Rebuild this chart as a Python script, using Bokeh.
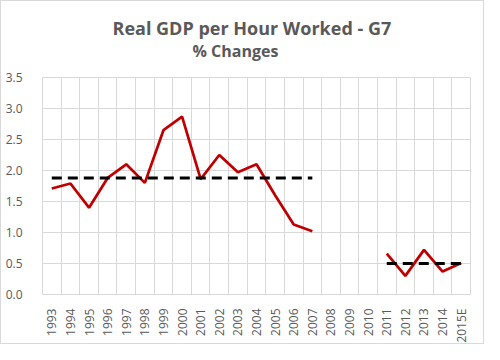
import math
from bokeh.plotting import figure
from bokeh.models import FixedTicker, Title, ColumnDataSource
from bokeh.embed import file_html
from bokeh.resources import INLINE

years = ["1993", "1994", "1995", "1996", "1997", "1998", "1999", "2000", "2001",
         "2002", "2003", "2004", "2005", "2006", "2007", "2008", "2009", "2010",
         "2011", "2012", "2013", "2014", "2015E"]
nan = float("nan")
growth = [1.71, 1.79, 1.40, 1.88, 2.10, 1.80, 2.65, 2.87, 1.86, 2.25, 1.97, 2.10,
          1.60, 1.13, 1.02, nan, nan, nan, 0.66, 0.30, 0.72, 0.37, 0.51]
avg_early_years = ["1993", "2007"]
avg_early = [1.88, 1.88]
avg_late_years = ["2011", "2015E"]
avg_late = [0.50, 0.50]
y_ticks = [0.0, 0.5, 1.0, 1.5, 2.0, 2.5, 3.0, 3.5]

pos = {y: i + 0.5 for i, y in enumerate(years)}

W, H = 484, 344
LEFT, RIGHT, TOP, BOTTOM = 41, 15, 76, 50
p = figure(width=W, height=H, output_backend="svg", toolbar_location=None,
           x_range=(0, len(years)), y_range=(0, 3.5),
           min_border_left=LEFT, min_border_right=RIGHT, min_border_top=TOP,
           min_border_bottom=BOTTOM, title=None)
p.styles = {"border": "1px solid #d9d9d9", "box-sizing": "border-box"}

FONT = "Open Sans"
GREY = "#595959"

sub = Title(text="% Changes", align="left", offset=150, text_font=FONT,
            text_font_size="16px", text_font_style="bold", text_color=GREY,
            standoff=31)
main = Title(text="Real GDP per Hour Worked - G7", align="left", offset=70,
             text_font=FONT, text_font_size="18px", text_font_style="bold",
             text_color=GREY, standoff=-35)
p.add_layout(sub, "above")
p.add_layout(main, "above")

# grid
p.xgrid.ticker = FixedTicker(ticks=list(range(len(years) + 1)))
p.ygrid.ticker = FixedTicker(ticks=y_ticks)
p.xgrid.grid_line_color = "#d9d9d9"
p.ygrid.grid_line_color = "#d9d9d9"
p.outline_line_color = "#d9d9d9"

# axes
p.xaxis.ticker = FixedTicker(ticks=[pos[y] for y in years])
p.xaxis.major_label_overrides = {pos[y]: y for y in years}
p.xaxis.major_label_orientation = math.pi / 2
p.yaxis.ticker = FixedTicker(ticks=y_ticks)
p.yaxis.major_label_overrides = {t: f"{t:.1f}" for t in y_ticks}
for ax in (p.xaxis, p.yaxis):
    ax.axis_line_color = None
    ax.major_tick_line_color = None
    ax.minor_tick_line_color = None
    ax.major_label_text_font = FONT
    ax.major_label_text_font_size = "12px"
    ax.major_label_text_color = GREY
p.xaxis.major_label_standoff = 8
p.yaxis.major_label_standoff = 14

src = ColumnDataSource(dict(x=[pos[y] for y in years], y=growth))
p.line("x", "y", source=src, line_color="#C00000", line_width=2.75)
p.line([pos[y] for y in avg_early_years], avg_early, line_color="black",
       line_width=3, line_dash="10 6")
p.line([pos[y] for y in avg_late_years], avg_late, line_color="black",
       line_width=3, line_dash="10 6")

open("out.html", "w").write(file_html(p, INLINE))
